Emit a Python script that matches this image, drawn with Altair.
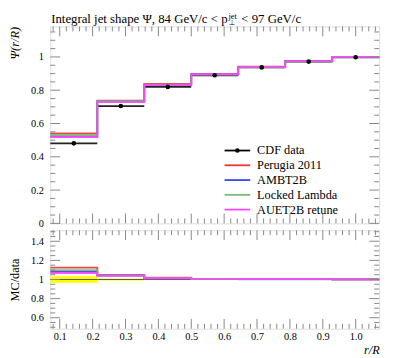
import altair as alt
import pandas as pd

# ---- data ----
edges = [1/14, 3/14, 5/14, 7/14, 9/14, 11/14, 13/14, 15/14]
data_vals = [0.481, 0.705, 0.820, 0.890, 0.937, 0.972, 0.998]
data_err = [0.006, 0.004, 0.003, 0.002, 0.002, 0.002, 0.001]

series_names = ["Perugia 2011", "AMBT2B", "Locked Lambda", "AUET2B retune"]
series_colors = ["#ee3333", "#3344ee", "#77bb77", "#ff44ff"]
perugia = [0.540, 0.737, 0.838, 0.897, 0.942, 0.976, 1.000]
ambt2b = [0.523, 0.733, 0.832, 0.895, 0.940, 0.975, 1.000]
locked = [0.531, 0.734, 0.834, 0.894, 0.938, 0.974, 1.000]
auet2b = [0.519, 0.729, 0.832, 0.896, 0.940, 0.975, 1.000]

r_perugia = [1.124, 1.045, 1.020, 1.006, 1.003, 1.003, 1.002]
r_ambt2b = [1.083, 1.042, 1.015, 1.005, 1.003, 1.003, 1.002]
r_locked = [1.097, 1.040, 1.017, 1.004, 1.001, 1.002, 1.002]
r_auet2b = [1.068, 1.038, 1.013, 1.006, 1.003, 1.003, 1.002]
band_half = [0.035, 0.010, 0.006, 0.003, 0.002, 0.002, 0.001]

x_major = [0.1, 0.2, 0.3, 0.4, 0.5, 0.6, 0.7, 0.8, 0.9, 1.0]
y_major_main = [0.0, 0.2, 0.4, 0.6, 0.8, 1.0]
y_major_ratio = [0.6, 0.8, 1.0, 1.2, 1.4]

title_parts = ["Integral jet shape Ψ, 84 GeV/c < p", "⊥", "jet", "< 97 GeV/c"]

FONT = "Liberation Serif"
W, H1, H2 = 334, 200, 100
XDOM = [edges[0], edges[-1]]
YDOM1 = [0.0, 1.183]
YDOM2 = [0.485, 1.515]
TICKC = "#888888"

xs = alt.Scale(domain=XDOM, nice=False, zero=False)


def step_df(vals, name):
    return pd.DataFrame({"x": list(edges), "y": list(vals) + [vals[-1]], "s": name})


def minors(lo, hi, step, majors):
    out = []
    v = lo
    while v <= hi + 1e-9:
        if all(abs(v - m) > 1e-6 for m in majors):
            out.append(round(v, 4))
        v += step
    return out


def tick_layers(yscale, yaxis, xaxis, ymaj, ymin, h):
    layers = []
    xmin = minors(0.08, 1.06, 0.02, x_major)
    for vals, L in [(ymaj, 10), (ymin, 5)]:
        d = pd.DataFrame({"v": vals})
        layers.append(alt.Chart(d).mark_rule(color=TICKC).encode(
            y=alt.Y("v:Q", scale=yscale, axis=yaxis), x=alt.value(0), x2=alt.value(L)))
        layers.append(alt.Chart(d).mark_rule(color=TICKC).encode(
            y=alt.Y("v:Q", scale=yscale, axis=yaxis), x=alt.value(W), x2=alt.value(W - L)))
    for vals, L in [(x_major, 10), (xmin, 5)]:
        d = pd.DataFrame({"v": vals})
        layers.append(alt.Chart(d).mark_rule(color=TICKC).encode(
            x=alt.X("v:Q", scale=xs, axis=xaxis), y=alt.value(h), y2=alt.value(h - L)))
        layers.append(alt.Chart(d).mark_rule(color=TICKC).encode(
            x=alt.X("v:Q", scale=xs, axis=xaxis), y=alt.value(0), y2=alt.value(L)))
    return layers


def txt(t, x, y, size, align="left", baseline="alphabetic"):
    return alt.Chart(pd.DataFrame({"t": [t]})).mark_text(
        align=align, baseline=baseline, font=FONT, fontSize=size, color="black").encode(
        x=alt.value(x), y=alt.value(y), text="t:N")


# ---------- main panel ----------
ys1 = alt.Scale(domain=YDOM1, nice=False, zero=False)
mc_main = pd.concat([step_df(v, n) for v, n in zip([perugia, ambt2b, locked, auet2b], series_names)])
color_scale = alt.Scale(domain=series_names, range=series_colors)

bins = pd.DataFrame({"lo": edges[:-1], "hi": edges[1:],
                     "c": [(a + b) / 2 for a, b in zip(edges[:-1], edges[1:])],
                     "y": data_vals,
                     "ylo": [v - e for v, e in zip(data_vals, data_err)],
                     "yhi": [v + e for v, e in zip(data_vals, data_err)]})

axis_y1 = alt.Axis(values=y_major_main, format="~g", ticks=False, domain=False, grid=False,
                   title="Ψ(r/R)", titleAnchor="end", titleFont=FONT, titleFontSize=12.5,
                   titleFontWeight="normal", titleFontStyle="italic", labelFont=FONT,
                   labelFontSize=10.5, labelColor="black", labelPadding=7, titlePadding=9)

data_line = alt.Chart(bins).mark_rule(color="#222222", strokeWidth=1.8).encode(
    x=alt.X("lo:Q", scale=xs, axis=None), x2="hi:Q",
    y=alt.Y("y:Q", scale=ys1, axis=axis_y1))
mc_lines = alt.Chart(mc_main).mark_line(interpolate="step-after", strokeWidth=1.8, opacity=0.9).encode(
    x=alt.X("x:Q", scale=xs, axis=None), y=alt.Y("y:Q", scale=ys1, axis=axis_y1),
    color=alt.Color("s:N", scale=color_scale, legend=None), detail="s:N")
data_err_bar = alt.Chart(bins).mark_rule(color="black").encode(
    x=alt.X("c:Q", scale=xs, axis=None), y=alt.Y("ylo:Q", scale=ys1, axis=axis_y1), y2="yhi:Q")
data_pts = alt.Chart(bins).mark_point(filled=True, color="black", size=22, opacity=1).encode(
    x=alt.X("c:Q", scale=xs, axis=None), y=alt.Y("y:Q", scale=ys1, axis=axis_y1))

title_layers = [
    txt(title_parts[0], 180, -4, 13, align="right"),
    txt(title_parts[1], 181, -1, 7),
    txt(title_parts[2], 181, -8, 8.5),
    txt(title_parts[3], 194, -4, 13),
]

# legend
leg_names = ["CDF data"] + series_names
leg_colors = ["black"] + series_colors
leg_layers = []
for i, (n, c) in enumerate(zip(leg_names, leg_colors)):
    yy = 126 + 15 * i
    d = pd.DataFrame({"t": [n]})
    leg_layers.append(alt.Chart(d).mark_rule(color=c, strokeWidth=1.8).encode(
        x=alt.value(177), x2=alt.value(203), y=alt.value(yy)))
    leg_layers.append(txt(n, 210, yy, 12.5, baseline="middle"))
leg_layers.append(alt.Chart(pd.DataFrame({"t": ["CDF data"]})).mark_point(
    filled=True, color="black", size=22, opacity=1).encode(x=alt.value(190), y=alt.value(126)))

main = alt.layer(data_line, mc_lines, data_err_bar, data_pts, *title_layers, *leg_layers,
                 *tick_layers(ys1, axis_y1, None, y_major_main,
                              minors(0.05, 1.15, 0.05, y_major_main), H1)
                 ).properties(width=W, height=H1)

# ---------- ratio panel ----------
ys2 = alt.Scale(domain=YDOM2, nice=False, zero=False)
mc_ratio = pd.concat([step_df(v, n) for v, n in zip([r_perugia, r_ambt2b, r_locked, r_auet2b], series_names)])
band = pd.DataFrame({"lo": edges[:-1], "hi": edges[1:],
                     "b0": [1 - b for b in band_half], "b1": [1 + b for b in band_half],
                     "one": [1.0] * 7})

axis_y2 = alt.Axis(values=y_major_ratio, format="~g", ticks=False, domain=False, grid=False,
                   title="MC/data", titleFont=FONT, titleFontSize=12.5,
                   titleFontWeight="normal", labelFont=FONT, labelFontSize=10.5,
                   labelColor="black", labelPadding=7, titlePadding=9)
axis_x2 = alt.Axis(values=x_major, format=".1f", ticks=False, domain=False, grid=False,
                   title="r/R", titleAnchor="end", titleFont=FONT, titleFontSize=12.5,
                   titleFontWeight="normal", titleFontStyle="italic", labelFont=FONT,
                   labelFontSize=10.5, labelColor="black", labelPadding=3, titlePadding=2)

band_rect = alt.Chart(band).mark_rect(color="#ffff00").encode(
    x=alt.X("lo:Q", scale=xs, axis=axis_x2), x2="hi:Q",
    y=alt.Y("b0:Q", scale=ys2, axis=axis_y2), y2="b1:Q")
one_line = alt.Chart(band).mark_rule(color="#555555", strokeWidth=1).encode(
    x=alt.X("lo:Q", scale=xs, axis=axis_x2), x2="hi:Q", y=alt.Y("one:Q", scale=ys2, axis=axis_y2))
r_lines = alt.Chart(mc_ratio).mark_line(interpolate="step-after", strokeWidth=1.8, opacity=0.9).encode(
    x=alt.X("x:Q", scale=xs, axis=axis_x2), y=alt.Y("y:Q", scale=ys2, axis=axis_y2),
    color=alt.Color("s:N", scale=color_scale, legend=None), detail="s:N")

ratio = alt.layer(band_rect, one_line, r_lines,
                  *tick_layers(ys2, axis_y2, axis_x2, y_major_ratio,
                               minors(0.5, 1.5, 0.05, y_major_ratio), H2)
                  ).properties(width=W, height=H2)

chart = alt.vconcat(main, ratio, spacing=0).resolve_scale(x="shared").configure_view(
    stroke="#777777", strokeWidth=1).configure(padding={"left": 0, "top": 0, "right": 5, "bottom": 0})

chart.save("out.html", embed_options={"renderer": "svg", "actions": False})
